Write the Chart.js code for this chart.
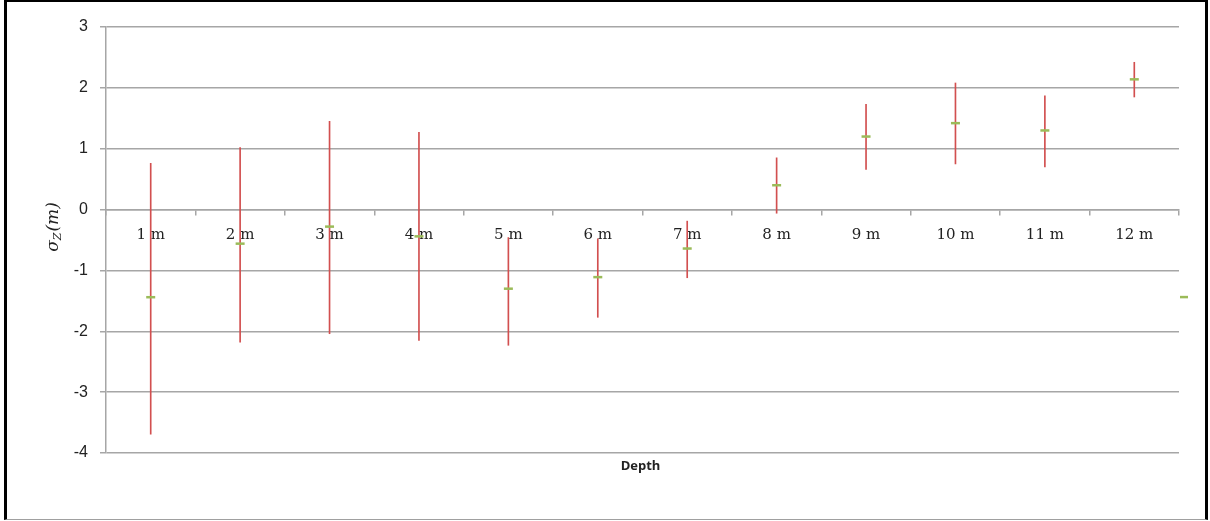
<!DOCTYPE html>
<html>
<head>
<meta charset="utf-8">
<script src="https://cdn.jsdelivr.net/npm/chart.js@4"></script>
<style>
  html, body { margin: 0; padding: 0; background: #fff; }
  #wrap { position: relative; width: 1210px; height: 521px; }
  #c { position: absolute; left: 0; top: 0; }
  #frame { position: absolute; left: 4px; top: 0; width: 1204px; height: 520px; box-sizing: border-box;
           border-left: 3px solid #000; border-top: 2px solid #000; border-right: 3px solid #000; border-bottom: 1px solid #a0a0a0; pointer-events: none; }
</style>
</head>
<body>
<div id="wrap">
  <canvas id="c" width="1210" height="521"></canvas>
  <div id="frame"></div>
</div>
<script>
const categories = ['1 m','2 m','3 m','4 m','5 m','6 m','7 m','8 m','9 m','10 m','11 m','12 m'];
const means = [-1.44, -0.56, -0.28, -0.44, -1.30, -1.11, -0.64, 0.40, 1.20, 1.42, 1.30, 2.14];
const upper = [0.76, 1.02, 1.45, 1.27, -0.46, -0.48, -0.19, 0.85, 1.73, 2.08, 1.87, 2.42];
const lower = [-3.69, -2.18, -2.04, -2.15, -2.23, -1.77, -1.12, -0.06, 0.66, 0.75, 0.70, 1.85];
const yTicks = [-4, -3, -2, -1, 0, 1, 2, 3];
const xTitle = 'Depth';

const GRID = '#a6a6a6';
const RED = '#d24f4f';
const GREEN = '#9bbb59';

const ranges = lower.map((lo, i) => [lo, upper[i]]);

const extras = {
  id: 'extras',
  afterDraw(chart) {
    const ctx = chart.ctx;
    const a = chart.chartArea;
    ctx.save();
    // x-axis title
    ctx.fillStyle = '#222';
    ctx.font = 'bold 13px "Open Sans", sans-serif';
    ctx.textAlign = 'center';
    ctx.textBaseline = 'middle';
    ctx.fillText(xTitle, (a.left + a.right) / 2 - 2, a.bottom + 13);
    // y-axis title: sigma_Z (m)
    ctx.translate(52, 227);
    ctx.rotate(-Math.PI / 2);
    ctx.textBaseline = 'alphabetic';
    ctx.textAlign = 'left';
    const big = 'italic 17px "DejaVu Serif", serif';
    const small = 'italic 11px "DejaVu Serif", serif';
    ctx.font = big; const w1 = ctx.measureText('σ').width;
    ctx.font = small; const w2 = ctx.measureText('Z').width;
    ctx.font = big; const w3 = ctx.measureText('(m)').width;
    let x = -(w1 + w2 + w3 + 1) / 2;
    ctx.fillStyle = '#222';
    ctx.font = big; ctx.fillText('σ', x, 6); x += w1;
    ctx.font = small; ctx.fillText('Z', x, 9); x += w2 + 1;
    ctx.font = big; ctx.fillText('(m)', x, 6);
    ctx.restore();
    // legend key (series marker without text)
    ctx.save();
    ctx.strokeStyle = GREEN;
    ctx.lineWidth = 2.5;
    ctx.beginPath();
    const ly = a.top + (a.bottom - a.top) * 0.634;
    ctx.moveTo(a.right + 1, ly);
    ctx.lineTo(a.right + 9, ly);
    ctx.stroke();
    ctx.restore();
  }
};

new Chart(document.getElementById('c'), {
  type: 'bar',
  data: {
    labels: categories,
    datasets: [
      {
        type: 'line',
        data: means,
        showLine: false,
        pointStyle: 'line',
        pointRadius: 4.5,
        pointBorderWidth: 2.5,
        pointBorderColor: GREEN,
        pointBackgroundColor: GREEN,
        borderColor: GREEN,
        order: 0
      },
      {
        type: 'bar',
        data: ranges,
        backgroundColor: RED,
        borderWidth: 0,
        barThickness: 1,
        order: 1
      }
    ]
  },
  options: {
    responsive: false,
    animation: false,
    events: [],
    layout: { padding: { left: 0, right: 31, top: 27, bottom: 68 } },
    plugins: { legend: { display: false }, tooltip: { enabled: false } },
    scales: {
      x: {
        position: { y: 0 },
        offset: true,
        z: 1,
        grid: { offset: true, drawOnChartArea: false, drawTicks: true, tickLength: 5, color: GRID, lineWidth: 1.5 },
        border: { display: true, color: GRID, width: 1.5 },
        ticks: { color: '#222', font: { family: '"DejaVu Serif", serif', size: 15 }, padding: 12, maxRotation: 0, autoSkip: false }
      },
      y: {
        min: -4,
        max: 3,
        afterFit(scale) { scale.width = 106; },
        afterBuildTicks(scale) { scale.ticks = yTicks.map(v => ({ value: v })); },
        grid: { color: GRID, lineWidth: 1.5, tickLength: 6 },
        border: { display: true, color: GRID, width: 1.5 },
        ticks: { color: '#222', font: { family: '"Liberation Sans", sans-serif', size: 16 }, padding: 12 }
      }
    }
  },
  plugins: [extras]
});
</script>
</body>
</html>
